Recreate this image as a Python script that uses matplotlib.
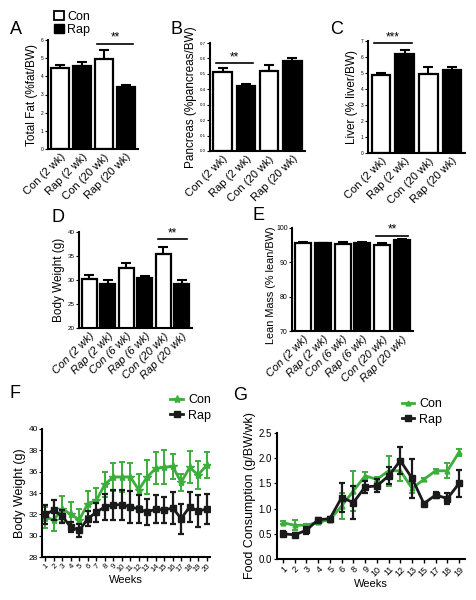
import matplotlib
matplotlib.use("Agg")
import matplotlib.pyplot as plt
from matplotlib.patches import Patch
from matplotlib.lines import Line2D
import numpy as np

plt.rcParams['font.family'] = ['Liberation Sans', 'DejaVu Sans']

# ---------------- data ----------------
cats4 = ["Con (2 wk)", "Rap (2 wk)", "Con (20 wk)", "Rap (20 wk)"]
cats6 = ["Con (2 wk)", "Rap (2 wk)", "Con (6 wk)", "Rap (6 wk)", "Con (20 wk)", "Rap (20 wk)"]

fat_mean = [4.45, 4.55, 4.95, 3.4]
fat_err = [0.2, 0.25, 0.5, 0.15]
pan_mean = [0.515, 0.42, 0.52, 0.585]
pan_err = [0.02, 0.015, 0.035, 0.02]
liv_mean = [4.9, 6.2, 4.95, 5.2]
liv_err = [0.1, 0.25, 0.4, 0.15]
bw_mean = [30.3, 29.1, 32.5, 30.5, 35.4, 29.2]
bw_err = [0.7, 0.8, 1.0, 0.4, 1.5, 0.9]
lean_mean = [95.5, 95.5, 95.3, 95.5, 95.0, 96.6]
lean_err = [0.3, 0.2, 0.5, 0.4, 0.5, 0.2]

weeks_f = list(range(1, 21))
con_bw = [31.7, 31.5, 32.5, 32.0, 31.5, 33.0, 33.3, 34.8, 35.5, 35.5,
          35.5, 34.3, 35.5, 36.3, 36.4, 36.5, 35.0, 36.4, 35.7, 36.6]
con_bw_err = [1.0, 1.1, 1.2, 1.2, 1.0, 1.2, 1.2, 1.2, 1.3, 1.4,
              1.3, 1.5, 1.6, 1.5, 1.6, 1.2, 0.8, 1.5, 1.3, 1.2]
rap_bw = [32.0, 32.4, 31.8, 30.8, 30.5, 31.6, 32.2, 32.7, 32.9, 32.9,
          32.7, 32.5, 32.2, 32.5, 32.4, 32.6, 31.6, 32.7, 32.3, 32.5]
rap_bw_err = [0.9, 0.9, 0.6, 0.5, 0.6, 0.7, 0.9, 1.2, 1.4, 1.4,
              1.5, 1.3, 1.2, 1.3, 1.2, 1.5, 1.4, 1.4, 1.5, 1.4]

weeks_g = ["1", "2", "3", "4", "5", "6", "8", "9", "10", "11", "12", "13", "15", "17", "18", "19"]
con_fc = [0.72, 0.67, 0.67, 0.73, 0.78, 1.05, 1.35, 1.65, 1.58, 1.75, 1.75, 1.4, 1.58, 1.75, 1.75, 2.12]
con_fc_err = [0.03, 0.1, 0.03, 0.04, 0.03, 0.25, 0.4, 0.08, 0.05, 0.3, 0.2, 0.1, 0.03, 0.03, 0.15, 0.07]
rap_fc = [0.5, 0.48, 0.57, 0.78, 0.8, 1.22, 1.12, 1.43, 1.45, 1.65, 1.95, 1.6, 1.1, 1.27, 1.2, 1.5]
rap_fc_err = [0.05, 0.03, 0.07, 0.03, 0.03, 0.28, 0.32, 0.12, 0.13, 0.17, 0.27, 0.38, 0.04, 0.05, 0.1, 0.27]

GREEN = '#3cae3c'
W, H = 476, 600

fig = plt.figure(figsize=(4.76, 6.0), dpi=100)


def ax_px(x1, y_top, x2, y_bot):
    return fig.add_axes([x1 / W, 1 - y_bot / H, (x2 - x1) / W, (y_bot - y_top) / H])


def style(ax, lw=1.5):
    for s in ['top', 'right']:
        ax.spines[s].set_visible(False)
    for s in ['left', 'bottom']:
        ax.spines[s].set_linewidth(lw)


def bar_panel(ax, cats, mean, err, ylim, yticks, ylabel, tick_fs, italic, sig, ylabfs=8.5):
    x = np.arange(len(cats))
    colors = ['white' if c.startswith('Con') else 'black' for c in cats]
    ax.bar(x, mean, width=0.8, color=colors, edgecolor='black', linewidth=1.6, zorder=2)
    ax.errorbar(x, mean, yerr=[np.zeros(len(err)), err], fmt='none', ecolor='black',
                elinewidth=1.5, capsize=3.5, capthick=1.5, zorder=1)
    ax.set_xlim(-0.55, len(cats) - 0.45)
    ax.set_ylim(*ylim)
    ax.set_yticks(yticks)
    ax.tick_params(axis='y', labelsize=tick_fs, length=2, width=0.8, pad=1)
    ax.set_xticks(x)
    ax.set_xticklabels(cats, rotation=45, ha='right', rotation_mode='anchor', fontsize=8,
                       fontstyle='italic' if italic else 'normal')
    ax.tick_params(axis='x', length=0, pad=2)
    ax.set_ylabel(ylabel, fontsize=ylabfs, labelpad=2)
    style(ax)
    i, j, yl, txt = sig
    ax.plot([i - 0.3, j + 0.3], [yl, yl], color='black', lw=1.2, clip_on=False)
    ax.text((i + j) / 2, yl, txt, ha='center', va='bottom', fontsize=8.5, clip_on=False)


# Panel A
axA = ax_px(48, 40, 138, 149)
bar_panel(axA, cats4, fat_mean, fat_err, (0, 6), range(0, 7), "Total Fat (%fat/BW)", 3.5, False,
          (2, 3, 5.8, "**"))
# Panel B
axB = ax_px(210, 43, 305, 151)
bar_panel(axB, cats4, pan_mean, pan_err, (0, 0.7), np.arange(0, 0.71, 0.1), "Pancreas (%pancreas/BW)", 3.2,
          False, (0, 1, 0.57, "**"))
axB.set_yticklabels([f"{v:.1f}" for v in np.arange(0, 0.71, 0.1)])
# Panel C
axC = ax_px(368, 41, 465, 153)
bar_panel(axC, cats4, liv_mean, liv_err, (0, 7), range(0, 8), "Liver (% liver/BW)", 3.5, False,
          (0, 1, 6.85, "***"))
# Panel D
axD = ax_px(79, 232, 192, 328)
bar_panel(axD, cats6, bw_mean, bw_err, (20, 40), range(20, 41, 5), "Body Weight (g)", 4.5, True,
          (4, 5, 38.5, "**"))
# Panel E
axE = ax_px(292, 228, 413, 331)
bar_panel(axE, cats6, lean_mean, lean_err, (70, 100), range(70, 101, 10), "Lean Mass (% lean/BW)", 5, True,
          (4, 5, 97.8, "**"), ylabfs=7.8)
axE.yaxis.set_label_coords(-0.13, 0.44)

# Legend for top panels
fig.legend(handles=[Patch(facecolor='white', edgecolor='black', lw=1.3, label='Con'),
                    Patch(facecolor='black', edgecolor='black', label='Rap')],
           loc='upper left', bbox_to_anchor=(45 / W, 1 - 2 / H), frameon=False, fontsize=9,
           handlelength=0.8, handleheight=0.8, handletextpad=0.3, labelspacing=0.05, borderpad=0.2)

# Panel F
axF = ax_px(42, 429, 210, 557)
axF.errorbar(weeks_f, con_bw, yerr=con_bw_err, color=GREEN, lw=2.0, marker='*', ms=6,
             elinewidth=1.4, capsize=2.5, capthick=1.4, label='Con', zorder=2)
axF.errorbar(weeks_f, rap_bw, yerr=rap_bw_err, color='#1a1a1a', lw=2.0, marker='s', ms=4.5,
             elinewidth=1.6, capsize=2.5, capthick=1.6, label='Rap', zorder=3)
axF.set_xlim(0.6, 20.4)
axF.set_ylim(28, 40)
axF.set_yticks(range(28, 41, 2))
axF.set_xticks(weeks_f)
axF.set_xticklabels([str(w) for w in weeks_f], rotation=45, ha='right', rotation_mode='anchor', fontsize=5.5)
axF.tick_params(axis='y', labelsize=6, length=2, width=0.8, pad=1)
axF.tick_params(axis='x', length=3, width=1.0, pad=1)
axF.set_ylabel("Body Weight (g)", fontsize=9, labelpad=2)
axF.set_xlabel("Weeks", fontsize=8, labelpad=1)
style(axF)
axF.legend(handles=[Line2D([], [], color=GREEN, marker='*', lw=2.0, ms=6, label='Con'),
                    Line2D([], [], color='#1a1a1a', marker='s', lw=2.0, ms=4.5, label='Rap')],
           loc='lower right', bbox_to_anchor=(1.05, 1.0), frameon=False, fontsize=9,
           handlelength=1.0, handletextpad=0.4, labelspacing=0.25, borderpad=0.1)
fig.text(15 / W, 1 - 393 / H, "F", fontsize=13, va='center', ha='center')

# Panel G
axG = ax_px(277, 433, 465, 559)
xg = np.arange(len(weeks_g))
axG.errorbar(xg, con_fc, yerr=con_fc_err, color=GREEN, lw=2.0, marker='^', ms=3.5,
             elinewidth=1.4, capsize=2.5, capthick=1.4, label='Con', zorder=2)
axG.errorbar(xg, rap_fc, yerr=rap_fc_err, color='#1a1a1a', lw=2.0, marker='s', ms=4.5,
             elinewidth=1.6, capsize=2.5, capthick=1.6, label='Rap', zorder=3)
axG.set_xlim(-0.5, len(weeks_g) - 0.5)
axG.set_ylim(0, 2.5)
axG.set_yticks(np.arange(0, 2.51, 0.5))
axG.set_yticklabels([f"{v:.1f}" for v in np.arange(0, 2.51, 0.5)])
axG.set_xticks(xg)
axG.set_xticklabels(weeks_g, rotation=45, ha='right', rotation_mode='anchor', fontsize=6.5)
axG.tick_params(axis='y', labelsize=7, length=2.5, width=0.8, pad=1)
axG.tick_params(axis='x', length=3, width=1.0, pad=1)
axG.set_ylabel("Food Consumption (g/BW/wk)", fontsize=9, labelpad=2)
axG.set_xlabel("Weeks", fontsize=8, labelpad=1)
style(axG)
axG.legend(handles=[Line2D([], [], color=GREEN, marker='^', lw=2.0, ms=3.5, label='Con'),
                    Line2D([], [], color='#1a1a1a', marker='s', lw=2.0, ms=4.5, label='Rap')],
           loc='lower right', bbox_to_anchor=(0.92, 1.0), frameon=False, fontsize=9,
           handlelength=1.0, handletextpad=0.4, labelspacing=0.25, borderpad=0.1)
fig.text(240 / W, 1 - 396 / H, "G", fontsize=13, va='center', ha='center')

# Panel letters
for lbl, (px, py) in {"A": (16, 29), "B": (177, 30), "C": (337, 30), "D": (58, 217), "E": (259, 216)}.items():
    fig.text(px / W, 1 - py / H, lbl, fontsize=13, va='center', ha='center')

fig.savefig("out.png", dpi=100)
